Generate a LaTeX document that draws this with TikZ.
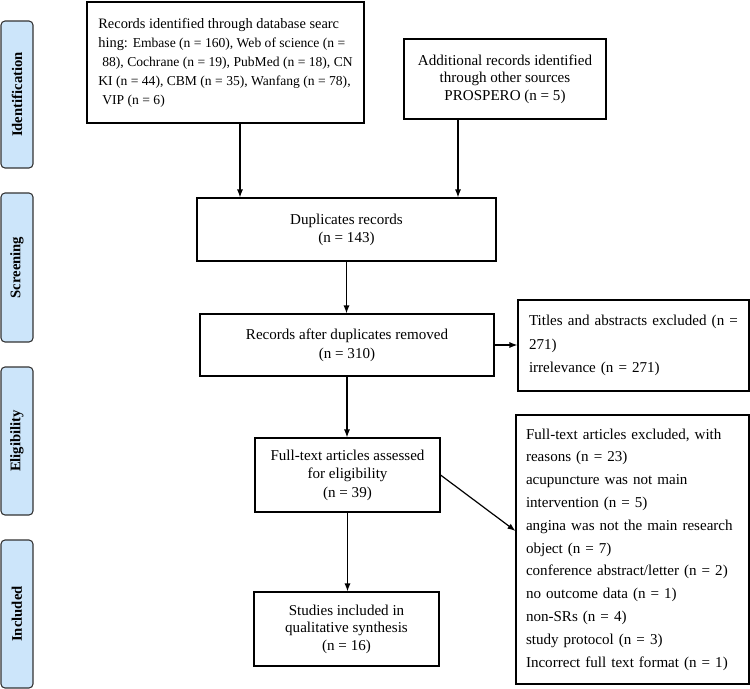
\documentclass[tikz,border=0pt]{standalone}
\usepackage{fontspec}
\setmainfont{Liberation Serif}
\usetikzlibrary{arrows.meta,calc}
\definecolor{sidefill}{HTML}{CCE5FA}
\newcommand\smf{\fontsize{10.2}{14.25}\selectfont}
\begin{document}
\begin{tikzpicture}[x=0.75pt,y=-0.75pt,
  box/.style={draw=black, line width=0.8pt, inner sep=0pt, align=center, font=\fontsize{11.3}{13.5}\selectfont},
  lbox/.style={draw=black, line width=0.8pt, inner ysep=0pt, align=left},
  side/.style={draw=black!80, fill=sidefill, rounded corners=3pt, line width=0.8pt, rotate=90, minimum height=24pt, inner sep=0pt, font=\fontsize{11}{13}\selectfont\bfseries},
  arr/.style={-{Latex[length=6pt,width=4.5pt]}, line width=0.9pt}]
\useasboundingbox (0,0) rectangle (750,689);

% side labels
\node[side, minimum width=110.25pt] (sid) at (17,94.5) {Identification};
\node[side, minimum width=111.75pt] (ssc) at (17,267.5) {Screening};
\node[side, minimum width=111pt] (sel) at (17,441) {Eligibility};
\node[side, minimum width=111pt] (sin) at (17,614) {Included};

% boxes
\node[box, minimum width=207.75pt, minimum height=90.75pt, align=left, font=\fontsize{10.8}{14.25}\selectfont] (b1) at (225.5,62.5)
 {Records identified through database searc\\
  hing: \smf Embase (n = 160), Web of science (n =\\
  \smf\hspace*{3pt}88), Cochrane (n = 19), PubMed (n = 18), CN\\
  \smf KI (n = 44), CBM (n = 35), Wanfang (n = 78),\\
  \smf\hspace*{3pt}VIP (n = 6)};
\node[box, minimum width=151.5pt, minimum height=60pt, font=\fontsize{11.3}{13.1}\selectfont] (b2) at (505,79)
 {Additional records identified\\ through other sources\\ PROSPERO (n = 5)};
\node[box, minimum width=224.25pt, minimum height=47.25pt] (b3) at (346.5,229.5)
 {Duplicates records\\ (n = 143)};
\node[box, minimum width=220.5pt, minimum height=46.5pt, font=\fontsize{11.3}{14.25}\selectfont] (b4) at (347,345)
 {Records after duplicates removed\\ (n = 310)};
\node[lbox, text width=156.75pt, inner xsep=8.25pt, minimum height=68.25pt, font=\fontsize{11.3}{17.6}\selectfont] (b5) at (633.5,345.5)
 {Titles and abstracts excluded (n =\\ 271)\\ irrelevance (n = 271)};
\node[box, minimum width=138.75pt, minimum height=55.5pt, font=\fontsize{11.3}{13.9}\selectfont] (b6) at (347.5,475)
 {Full-text articles assessed\\ for eligibility\\ (n = 39)};
\node[lbox, text width=159.75pt, inner xsep=7.5pt, minimum height=201.75pt, font=\fontsize{11.3}{17.1}\selectfont] (b7) at (632.5,549.5)
 {Full-text articles excluded, with\\ reasons (n = 23)\\ acupuncture was not main\\ intervention (n = 5)\\ angina was not the main research\\ object (n = 7)\\ conference abstract/letter (n = 2)\\ no outcome data (n = 1)\\ non-SRs (n = 4)\\ study protocol (n = 3)\\ Incorrect full text format (n = 1)};
\node[box, minimum width=138.75pt, minimum height=55.5pt, font=\fontsize{11.3}{13.1}\selectfont] (b8) at (346.5,629)
 {Studies included in\\ qualitative synthesis\\ (n = 16)};

% connectors
\draw[arr] ([xshift=10.875pt]b1.south) -- ([xshift=10.875pt]b1.south |- b3.north);
\draw[arr] ([xshift=-35.25pt]b2.south) -- ([xshift=-35.25pt]b2.south |- b3.north);
\draw[arr] (b3.south) -- (b3.south |- b4.north);
\draw[arr] (b4.east) -- (b4.east -| b5.west);
\draw[arr] (b4.south) -- (b4.south |- b6.north);
\draw[arr] (b6.east) -- ([yshift=13.9pt]b7.west);
\draw[arr] (b6.south) -- (b6.south |- b8.north);
\end{tikzpicture}
\end{document}
